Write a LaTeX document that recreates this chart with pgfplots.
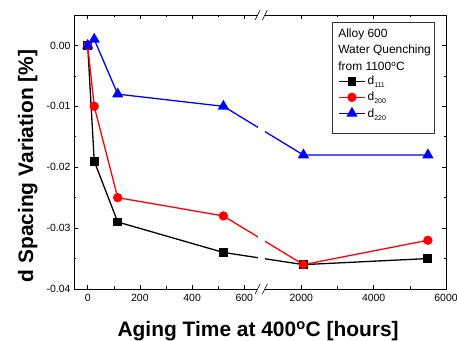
\documentclass[border=0pt]{standalone}
\usepackage{fontspec}
\setmainfont{Liberation Sans}
\usepackage{pgfplots}
\pgfplotsset{compat=1.18}
\usepackage{pgfplotstable}

\pgfplotstableread{
t d111 d200 d220
0 0.000 0.000 0.000
25 -0.019 -0.010 0.001
115 -0.029 -0.025 -0.008
520 -0.034 -0.028 -0.010
2060 -0.036 -0.036 -0.018
5500 -0.035 -0.032 -0.018
}\datatable

\begin{document}
\begin{tikzpicture}
\begin{axis}[
 scale only axis, width=372bp, height=274bp,
 xmin=-52.5, xmax=1372.7, ymin=-0.04, ymax=0.005,
 xtick={0,200,400,600,818.3,1095.5,1372.7},
 xticklabels={0,200,400,600,2000,4000,6000},
 minor xtick={100,300,500,956.9,1234.1},
 ytick={-0.04,-0.03,-0.02,-0.01,0},
 minor ytick={-0.035,-0.025,-0.015,-0.005},
 scaled y ticks=false,
 yticklabel style={/pgf/number format/.cd, fixed, fixed zerofill, precision=2},
 /pgf/number format/assume math mode=true,
 tick align=inside, major tick length=4bp, minor tick length=2.5bp,
 tick style={black, line width=0.6pt},
 axis line style={line width=0.8pt},
 ticklabel style={font=\fontsize{10.5}{12}\selectfont},
 xticklabel style={yshift=-2bp},
 clip=false,
 legend style={draw=none, fill=none, at={(axis description cs:0.71,0.785)}, anchor=north west, inner sep=0pt, row sep=2pt, font=\fontsize{12}{13}\selectfont, cells={anchor=west}},
 legend image code/.code={\draw[mark repeat=2,mark phase=2] plot coordinates {(0bp,0bp)(13bp,0bp)(26bp,0bp)};},
]
\addplot[black, line width=1.3pt, mark=square*, mark size=3.8bp] table[x expr={\thisrow{t}<800 ? \thisrow{t} : 679.7+(\thisrow{t}-1000)*0.1386}, y=d111] {\datatable};
\addlegendentry{d\raisebox{-3pt}{\scriptsize 111}}
\addplot[red, line width=1.3pt, mark=*, mark size=4bp] table[x expr={\thisrow{t}<800 ? \thisrow{t} : 679.7+(\thisrow{t}-1000)*0.1386}, y=d200] {\datatable};
\addlegendentry{d\raisebox{-3pt}{\scriptsize 200}}
\addplot[blue, line width=1.3pt, mark=triangle*, mark size=5.3bp] table[x expr={\thisrow{t}<800 ? \thisrow{t} : 679.7+(\thisrow{t}-1000)*0.1386}, y=d220] {\datatable};
\addlegendentry{d\raisebox{-3pt}{\scriptsize 220}}

% axis break
\fill[white] (axis cs:651,-0.0405) rectangle (axis cs:678.7,0.0055);
\draw[line width=0.6pt] ([xshift=-2.5bp,yshift=-5bp]axis cs:651,-0.04) -- ([xshift=2.5bp,yshift=5bp]axis cs:651,-0.04);
\draw[line width=0.6pt] ([xshift=-2.5bp,yshift=-5bp]axis cs:651,0.005) -- ([xshift=2.5bp,yshift=5bp]axis cs:651,0.005);
\draw[line width=0.6pt] ([xshift=-2.5bp,yshift=-5bp]axis cs:678.7,-0.04) -- ([xshift=2.5bp,yshift=5bp]axis cs:678.7,-0.04);
\draw[line width=0.6pt] ([xshift=-2.5bp,yshift=-5bp]axis cs:678.7,0.005) -- ([xshift=2.5bp,yshift=5bp]axis cs:678.7,0.005);

\draw[line width=0.7pt, black!80] (axis description cs:0.694,0.569) rectangle (axis description cs:0.968,0.974);
\node[anchor=north west, align=left, inner sep=0pt, font=\fontsize{12}{16.5}\selectfont] at (axis description cs:0.71,0.95) {Alloy 600\\Water Quenching\\from 1100\textsuperscript{o}C};

\node[rotate=90, anchor=base, font=\bfseries\fontsize{21}{24}\selectfont] at (axis description cs:-0.110,0.449) {d Spacing Variation [\%]};
\node[anchor=base, font=\bfseries\fontsize{21}{24}\selectfont] at (axis description cs:0.495,-0.175) {Aging Time at 400\textsuperscript{o}C [hours]};
\end{axis}
\pgfresetboundingbox
\path ([xshift=-74bp,yshift=-52bp]current axis.south west) rectangle ([xshift=11bp,yshift=15bp]current axis.north east);
\end{tikzpicture}
\end{document}
